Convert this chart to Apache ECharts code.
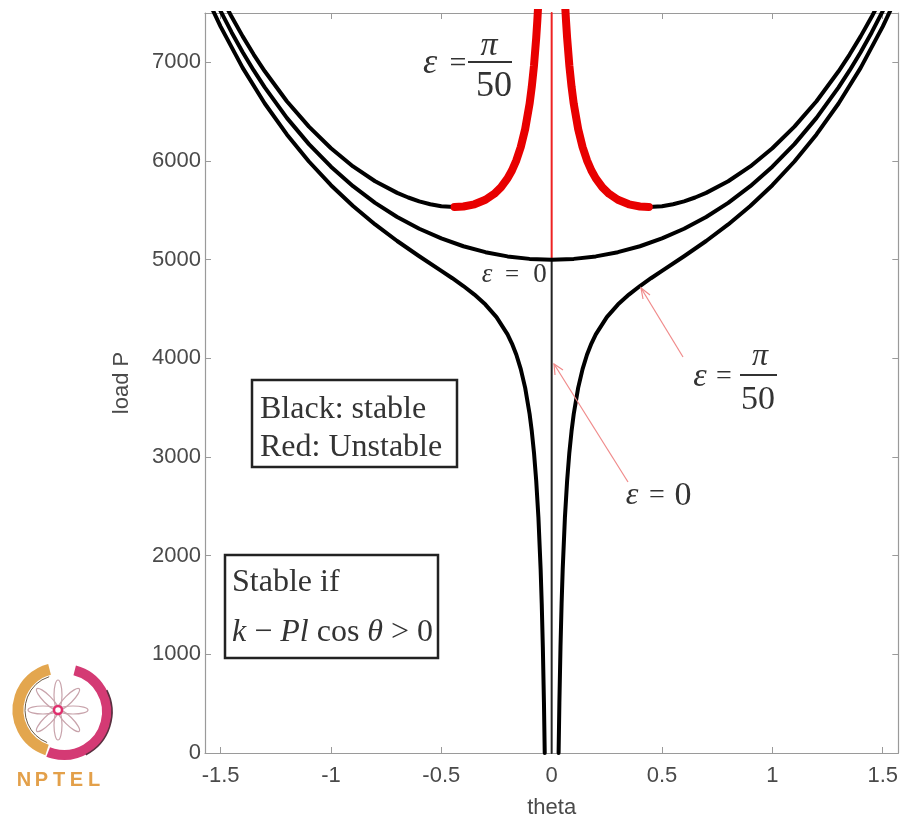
<!DOCTYPE html>
<html>
<head>
<meta charset="utf-8">
<script src="https://cdn.jsdelivr.net/npm/echarts@6/dist/echarts.min.js"></script>
<style>html,body{margin:0;padding:0;background:#fff}#c{width:901px;height:824px}</style>
</head>
<body>
<div id="c"></div>
<script>
// ---- data: [theta, load P] ----
const xTicks = [-1.5, -1, -0.5, 0, 0.5, 1, 1.5];
const yTicks = [0, 1000, 2000, 3000, 4000, 5000, 6000, 7000];

// epsilon = pi/50 branch above the critical load (unstable part near theta = 0)
const upperRightRed = [[0.06,7622],[0.065,7421],[0.07,7249],[0.08,6970],[0.09,6754],[0.10,6581],[0.12,6324],[0.14,6142],[0.16,6007],[0.18,5904],[0.20,5824],[0.23,5733],[0.26,5668],[0.30,5607],[0.35,5561],[0.40,5539],[0.44,5534]];
const upperRightBlack = [[0.44,5534],[0.50,5542],[0.55,5562],[0.60,5591],[0.65,5630],[0.70,5677],[0.80,5795],[0.90,5945],[1.00,6129],[1.10,6348],[1.20,6606],[1.30,6909],[1.35,7079],[1.40,7263],[1.45,7461],[1.50,7676]];
const upperLeftRed = [[-0.06,7622],[-0.065,7421],[-0.07,7249],[-0.08,6970],[-0.09,6754],[-0.10,6581],[-0.12,6324],[-0.14,6142],[-0.16,6007],[-0.18,5904],[-0.20,5824],[-0.23,5733],[-0.26,5668],[-0.30,5607],[-0.35,5561],[-0.40,5539],[-0.44,5534]];
const upperLeftBlack = [[-0.44,5534],[-0.50,5542],[-0.55,5562],[-0.60,5591],[-0.65,5630],[-0.70,5677],[-0.80,5795],[-0.90,5945],[-1.00,6129],[-1.10,6348],[-1.20,6606],[-1.30,6909],[-1.35,7079],[-1.40,7263],[-1.45,7461],[-1.50,7676]];

// epsilon = 0 post-buckling branch
const perfectCurve = [[-1.55,7752],[-1.50,7519],[-1.45,7303],[-1.40,7103],[-1.35,6918],[-1.30,6746],[-1.20,6437],[-1.10,6171],[-1.00,5942],[-0.90,5745],[-0.80,5576],[-0.70,5433],[-0.60,5313],[-0.50,5215],[-0.40,5136],[-0.30,5076],[-0.20,5033],[-0.10,5008],[0,5000],[0.10,5008],[0.20,5033],[0.30,5076],[0.40,5136],[0.50,5215],[0.60,5313],[0.70,5433],[0.80,5576],[0.90,5745],[1.00,5942],[1.10,6171],[1.20,6437],[1.30,6746],[1.35,6918],[1.40,7103],[1.45,7303],[1.50,7519],[1.55,7752]];

// epsilon = pi/50 branch starting from zero load
const lowerRight = [[0.0314,0],[0.035,514],[0.04,1075],[0.045,1512],[0.05,1861],[0.06,2385],[0.07,2759],[0.08,3041],[0.09,3260],[0.10,3436],[0.12,3701],[0.14,3891],[0.16,4036],[0.18,4150],[0.20,4243],[0.25,4418],[0.30,4545],[0.35,4646],[0.40,4733],[0.45,4812],[0.50,4887],[0.60,5035],[0.70,5189],[0.80,5357],[0.90,5544],[1.00,5755],[1.10,5995],[1.20,6269],[1.30,6583],[1.40,6944],[1.50,7362],[1.57,7693]];
const lowerLeft = [[-0.0314,0],[-0.035,514],[-0.04,1075],[-0.045,1512],[-0.05,1861],[-0.06,2385],[-0.07,2759],[-0.08,3041],[-0.09,3260],[-0.10,3436],[-0.12,3701],[-0.14,3891],[-0.16,4036],[-0.18,4150],[-0.20,4243],[-0.25,4418],[-0.30,4545],[-0.35,4646],[-0.40,4733],[-0.45,4812],[-0.50,4887],[-0.60,5035],[-0.70,5189],[-0.80,5357],[-0.90,5544],[-1.00,5755],[-1.10,5995],[-1.20,6269],[-1.30,6583],[-1.40,6944],[-1.50,7362],[-1.57,7693]];

// epsilon = 0 trivial branch (theta = 0)
const trivialStable = [[0,0],[0,5000]];
const trivialUnstable = [[0,5000],[0,7500]];

const chart = echarts.init(document.getElementById('c'), null, {renderer:'canvas'});
const axisGray = '#9a9a9a';
const labelGray = '#4a4a4a';
const serif = '"Liberation Serif", "Times New Roman", serif';
const sans = '"Liberation Sans", Arial, sans-serif';

function line(name, data, color, width, z) {
  return {name, type:'line', data, showSymbol:false, symbol:'none', smooth:false, clip:true,
    lineStyle:{color, width, cap:'round', join:'round'}, z: z || 2, silent:true};
}

function txt(x, y, text, size, opts) {
  return Object.assign({type:'text', z:100, style:Object.assign({x, y, text, fill:'#333',
    font: (opts && opts.italic ? 'italic ' : '') + size + 'px ' + serif,
    textAlign:'center', textVerticalAlign:'middle'}, (opts && opts.style) || {})});
}

const logoCx = 58, logoCy = 710;
const star = [];
for (let i = 0; i < 8; i++) {
  star.push({type:'ellipse', z:100, x:logoCx, y:logoCy, rotation: i*Math.PI/4,
    shape:{cx:0, cy:-15, rx:4, ry:15}, style:{fill:'none', stroke:'#c8a3ab', lineWidth:1.2}});
}
const logoLetters = ['N','P','T','E','L'].map((ch, i) => ({type:'text', z:100,
  style:{x:24 + i*17.5, y:780, text:ch, fill:'#e3a04a', font:'bold 20px ' + sans,
    textAlign:'center', textVerticalAlign:'middle'}}));

const option = {
  animation:false,
  backgroundColor:'#fff',
  grid:{left:205, right:1, top:13, bottom:63, containLabel:false},
  xAxis:[
    {type:'value', min:-1.5708, max:1.5708, position:'bottom',
     axisLine:{show:true, onZero:false, lineStyle:{color:axisGray, width:1.2}},
     axisTick:{show:true, inside:true, length:6, customValues:xTicks, lineStyle:{color:axisGray}},
     axisLabel:{customValues:xTicks, color:labelGray, fontSize:22, fontFamily:sans, margin:12,
       formatter:(v) => String(v)},
     splitLine:{show:false},
     name:'theta', nameLocation:'middle', nameGap:44,
     nameTextStyle:{color:labelGray, fontSize:22, fontFamily:sans}},
    {type:'value', min:-1.5708, max:1.5708, position:'top',
     axisLine:{show:true, onZero:false, lineStyle:{color:axisGray, width:1.2}},
     axisTick:{show:true, inside:true, length:6, customValues:xTicks, lineStyle:{color:axisGray}},
     axisLabel:{show:false}, splitLine:{show:false}}
  ],
  yAxis:[
    {type:'value', min:0, max:7500, position:'left',
     axisLine:{show:true, onZero:false, lineStyle:{color:axisGray, width:1.2}},
     axisTick:{show:true, inside:true, length:6, customValues:yTicks, lineStyle:{color:axisGray}},
     axisLabel:{customValues:yTicks, color:labelGray, fontSize:22, fontFamily:sans, margin:4,
       formatter:(v) => String(v)},
     splitLine:{show:false},
     name:'load P', nameLocation:'middle', nameGap:72, nameRotate:90,
     nameTextStyle:{color:labelGray, fontSize:22, fontFamily:sans}},
    {type:'value', min:0, max:7500, position:'right',
     axisLine:{show:true, onZero:false, lineStyle:{color:axisGray, width:1.2}},
     axisTick:{show:true, inside:true, length:6, customValues:yTicks, lineStyle:{color:axisGray}},
     axisLabel:{show:false}, splitLine:{show:false}}
  ],
  series:[
    line('trivial stable', trivialStable, '#222', 2, 2),
    line('trivial unstable', trivialUnstable, '#e22', 2, 2),
    line('perfect', perfectCurve, '#000', 4, 3),
    line('lower right', lowerRight, '#000', 4, 3),
    line('lower left', lowerLeft, '#000', 4, 3),
    line('upper right stable', upperRightBlack, '#000', 4, 3),
    line('upper left stable', upperLeftBlack, '#000', 4, 3),
    line('upper right unstable', upperRightRed, '#e80000', 8, 4),
    line('upper left unstable', upperLeftRed, '#e80000', 8, 4)
  ],
  graphic:[
    // upper-left label  eps = pi/50
    txt(430, 64, 'ε', 36, {italic:true}),
    txt(458, 64, '=', 30),
    txt(489, 46, 'π', 34, {italic:true}),
    {type:'line', z:100, shape:{x1:468, y1:62, x2:512, y2:62}, style:{stroke:'#333', lineWidth:2}},
    txt(494, 87, '50', 36),
    // middle label eps = 0
    txt(487, 275, 'ε', 27, {italic:true}),
    txt(512, 275, '=', 25),
    txt(540, 275, '0', 27),
    // right label eps = pi/50
    txt(700, 377, 'ε', 34, {italic:true}),
    txt(724, 377, '=', 28),
    txt(760, 357, 'π', 32, {italic:true}),
    {type:'line', z:100, shape:{x1:740, y1:375, x2:777, y2:375}, style:{stroke:'#333', lineWidth:2}},
    txt(758, 400, '50', 34),
    // lower label eps = 0
    txt(632, 496, 'ε', 32, {italic:true}),
    txt(657, 496, '=', 28),
    txt(683, 496, '0', 34),
    // arrows
    {type:'line', z:90, shape:{x1:683, y1:357, x2:641, y2:288}, style:{stroke:'#f08a8a', lineWidth:1.2}},
    {type:'polyline', z:90, shape:{points:[[643,299],[641,288],[650,295]]}, style:{stroke:'#f08a8a', lineWidth:1.2, fill:'none'}},
    {type:'line', z:90, shape:{x1:628, y1:482, x2:554, y2:364}, style:{stroke:'#f08a8a', lineWidth:1.2}},
    {type:'polyline', z:90, shape:{points:[[555,375],[554,364],[563,370]]}, style:{stroke:'#f08a8a', lineWidth:1.2, fill:'none'}},
    // legend box
    {type:'rect', z:100, shape:{x:252, y:380, width:205, height:87}, style:{fill:'#fff', stroke:'#222', lineWidth:2.5}},
    txt(260, 410, 'Black: stable', 32, {style:{textAlign:'left'}}),
    txt(260, 448, 'Red: Unstable', 32, {style:{textAlign:'left'}}),
    // stability box
    {type:'rect', z:100, shape:{x:225, y:555, width:213, height:103}, style:{fill:'#fff', stroke:'#222', lineWidth:2.5}},
    txt(232, 583, 'Stable if', 32, {style:{textAlign:'left'}}),
    {type:'text', z:101, style:{x:232, y:633, text:'{i|k} − {i|Pl} cos {i|θ} > 0', fill:'#333',
      font:'32px ' + serif, textAlign:'left', textVerticalAlign:'middle',
      rich:{i:{fontStyle:'italic', fontFamily:serif, fontSize:32, fill:'#333'}}}},
    // NPTEL logo
    {type:'arc', z:100, shape:{cx:logoCx+2, cy:logoCy, r:42, startAngle:Math.PI*0.6, endAngle:Math.PI*1.42, clockwise:true},
      style:{stroke:'#e3a64e', lineWidth:11, fill:'none'}},
    {type:'arc', z:100, shape:{cx:logoCx+2, cy:logoCy, r:35, startAngle:Math.PI*0.62, endAngle:Math.PI*1.4, clockwise:true},
      style:{stroke:'#6a5a45', lineWidth:1, fill:'none'}},
    {type:'arc', z:100, shape:{cx:logoCx+6, cy:logoCy+2, r:43, startAngle:-Math.PI*0.42, endAngle:Math.PI*0.62, clockwise:true},
      style:{stroke:'#d43a74', lineWidth:10, fill:'none'}},
    {type:'arc', z:100, shape:{cx:logoCx+6, cy:logoCy+2, r:48, startAngle:-Math.PI*0.15, endAngle:Math.PI*0.35, clockwise:true},
      style:{stroke:'#5a3040', lineWidth:1.5, fill:'none'}},
    ...star,
    {type:'circle', z:101, shape:{cx:logoCx, cy:logoCy, r:4}, style:{fill:'#fff', stroke:'#e0306e', lineWidth:2.5}},
    ...logoLetters
  ]
};
chart.setOption(option);
</script>
</body>
</html>
